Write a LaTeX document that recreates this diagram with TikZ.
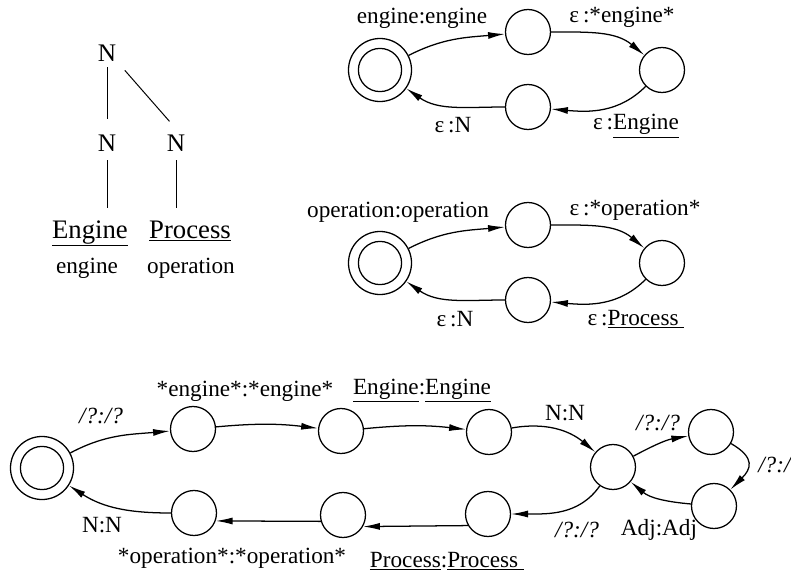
\documentclass[tikz,border=0pt]{standalone}
\usepackage{fontspec}
\setmainfont{Liberation Serif}
\usetikzlibrary{arrows.meta, positioning}
\tikzstyle{trans} = [line width=0.9pt, -{Latex[length=12pt, width=5pt]}]
\tikzstyle{branch} = [line width=0.7pt]

\begin{document}
\begin{tikzpicture}[
		x=0.025cm, y=-0.025cm,
		fststate/.style={circle, draw, line width=0.9pt, minimum size=1.125cm, inner sep=0pt},
		finalstate/.style={fststate, minimum size=1.575cm, path picture={\draw[line width=0.9pt] (path picture bounding box.center) circle (0.54cm);}},
		lbl/.style={font=\fontsize{16.5}{18}\selectfont, inner sep=0pt, anchor=base},
		cat/.style={font=\fontsize{18}{20}\selectfont, inner sep=4pt},
		word/.style={font=\fontsize{19}{21}\selectfont, inner sep=0pt, anchor=base}
		]
		\useasboundingbox (0,0) rectangle (791,578);
		% Tree
		\node[cat] (root) at (107,53) {N};
		\node[cat] (nleft) at (107,143) {N};
		\node[cat] (nright) at (176,143) {N};
		\node[word] (engword) at (90,238) {\underline{Engine}};
		\node[word] (procword) at (190,238) {\underline{Process}};
		\node[lbl] (enggloss) at (87,273) {engine};
		\node[lbl] (procgloss) at (191,273) {operation};
		\draw[branch, shorten >=7pt] (root) -- (nleft);
		\draw[branch, shorten <=3pt, shorten >=7pt] (root.south east) -- (nright.north);
		\draw[branch, shorten <=2pt, shorten >=8.5pt] (nleft.south) -- (nleft.south |- engword.north);
		\draw[branch, shorten <=2pt, shorten >=8.5pt] (nright.south) -- (nright.south |- procword.north);
		% Engine transducer
		\node[finalstate] (e0) at (380,70) {};
		\node[fststate] (e1) at (528,32) {};
		\node[fststate] (e2) at (662,70) {};
		\node[fststate] (e3) at (528,107) {};
		\draw[trans] (e0) to[out=27, in=185] (e1);
		\draw[trans] (e1) to[out=0, in=140] (e2);
		\draw[trans] (e2) to[out=225, in=-5] (e3);
		\draw[trans] (e3) to[out=180, in=-35] (e0);
		\node[lbl] (e01) at (422,24) {engine:engine};
		\node[lbl] (e12) at (622,23) {ε\,:*engine*};
		\node[lbl] (e23) at (636,130) {ε\,:\underline{Engine}};
		\node[lbl] (e30) at (453,133) {ε\,:N};
		% Operation transducer
		\node[finalstate] (o0) at (380,263) {};
		\node[fststate] (o1) at (528,225) {};
		\node[fststate] (o2) at (662,263) {};
		\node[fststate] (o3) at (528,300) {};
		\draw[trans] (o0) to[out=27, in=185] (o1);
		\draw[trans] (o1) to[out=0, in=140] (o2);
		\draw[trans] (o2) to[out=225, in=-5] (o3);
		\draw[trans] (o3) to[out=180, in=-35] (o0);
		\node[lbl] (o01) at (398,218) {operation:operation};
		\node[lbl] (o12) at (635,215) {ε\,:*operation*};
		\node[lbl] (o23) at (636,325) {ε\,:\underline{Process\ }};
		\node[lbl] (o30) at (455,326) {ε\,:N};
		% Compound transducer
		\node[finalstate] (c0) at (42,468) {};
		\node[fststate] (c1) at (193,429) {};
		\node[fststate] (c2) at (341,431) {};
		\node[fststate] (c3) at (489,432) {};
		\node[fststate] (c4) at (613,467) {};
		\node[fststate] (c5) at (711,432) {};
		\node[fststate] (c6) at (714,506) {};
		\node[fststate] (c7) at (488,514) {};
		\node[fststate] (c8) at (343,515) {};
		\node[fststate] (c9) at (194,513) {};
		\draw[trans] (c0) to[out=28, in=185] (c1);
		\draw[trans] (c1) to[bend left=6] (c2);
		\draw[trans] (c2) to[bend left=6] (c3);
		\draw[trans] (c3) to[out=10, in=140] (c4);
		\draw[trans] (c4) to[out=28, in=190] (c5);
		\draw[trans] (c5) to[out=-30, in=45, looseness=1.6] (c6);
		\draw[trans] (c6) to[out=175, in=-40] (c4);
		\draw[trans] (c4) to[out=235, in=0] (c7);
		\draw[trans] (c7.210) -- (c8.-30);
		\draw[trans] (c8.196) -- (c9.-20);
		\draw[trans] (c9) to[out=180, in=-33] (c0);
		\node[lbl] (c01) at (101,423) {\textit{/?:/?}};
		\node[lbl] (c12) at (245,396) {*engine*:*engine*};
		\node[lbl] (c23) at (422,394) {\underline{Engine}:\underline{Engine}};
		\node[lbl] (c34) at (565,420) {N:N};
		\node[lbl] (c45) at (658,430) {\textit{/?:/?}};
		\node[lbl, anchor=base west] (c56) at (758,472) {\textit{/?:/?}};
		\node[lbl] (c64) at (659,535) {Adj:Adj};
		\node[lbl] (c47) at (577,537) {\textit{/?:/?}};
		\node[lbl] (c78) at (447,567) {\underline{Process}:\underline{Process\ }};
		\node[lbl] (c89) at (232,563) {*operation*:*operation*};
		\node[lbl] (c90) at (102,532) {N:N};
	\end{tikzpicture}
\end{document}
